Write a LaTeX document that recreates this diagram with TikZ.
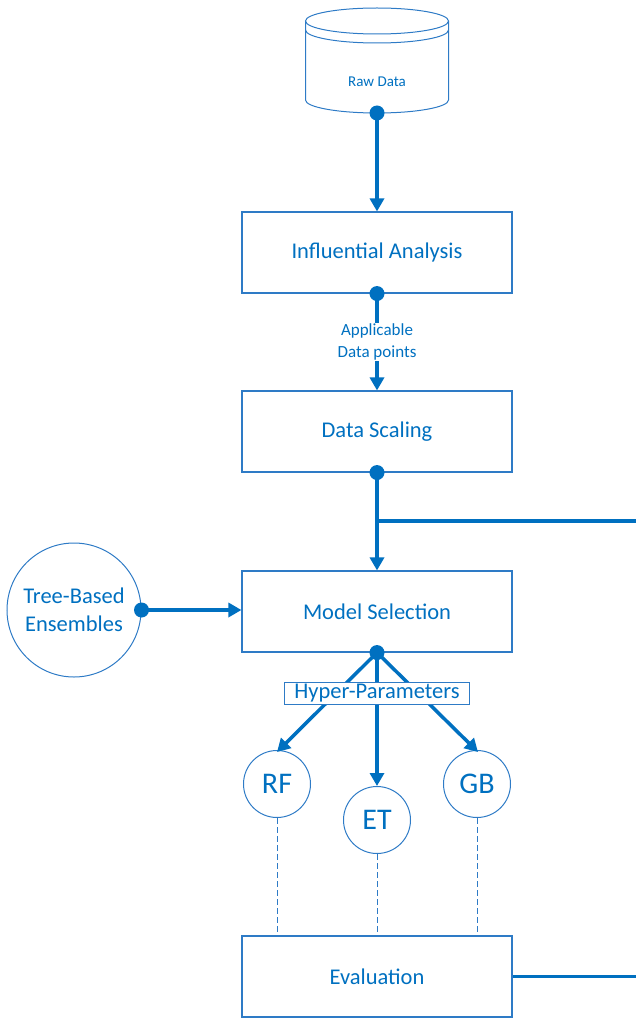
\documentclass[tikz,border=0pt]{standalone}
\usepackage{fontspec}
\setmainfont{Carlito}
\usetikzlibrary{arrows.meta}
\definecolor{mblue}{HTML}{0070C0}
\definecolor{lblue}{HTML}{2E7BC6}
\tikzset{
  box/.style={draw=lblue, line width=1.1pt, minimum width=270pt, minimum height=81pt, inner sep=0pt, text=mblue, font=\fontsize{22.5}{27}\selectfont},
  circ/.style={draw=lblue, line width=1pt, circle, inner sep=0pt, text=mblue},
  conn/.style={draw=mblue, line width=3.5pt, -{Triangle[length=13pt,width=14pt]}},
  plain/.style={draw=mblue, line width=3.5pt},
  dot/.style={fill=mblue},
  dashline/.style={draw=lblue, line width=0.9pt, dash pattern=on 6pt off 3pt},
  lbl/.style={text=mblue, align=center, inner sep=1pt}
}
\begin{document}
\begin{tikzpicture}[x=1pt,y=-1pt]
\useasboundingbox (0,0) rectangle (636,1019);
% cylinder
\draw[lblue, line width=1pt] (377,21) ellipse [x radius=71.5pt, y radius=13pt];
\draw[lblue, line width=1pt] (305.5,21) -- (305.5,100) arc[start angle=180, end angle=360, x radius=71.5pt, y radius=13pt] -- (448.5,21);
\draw[lblue, line width=1pt] (305.5,30) arc[start angle=180, end angle=360, x radius=71.5pt, y radius=13pt];
\node[lbl, font=\fontsize{15}{18}\selectfont] (raw) at (377,82) {Raw Data};
\coordinate (rawb) at (377,113);
% boxes
\node[box] (ia) at (377,252.5) {\raisebox{-2pt}{Influential Analysis}};
\node[box] (ds) at (377,431.5) {\raisebox{-2pt}{Data Scaling}};
\node[box] (ms) at (377,611.5) {\raisebox{-1pt}{Model Selection}};
\node[box] (ev) at (377,976.5) {\raisebox{-1pt}{Evaluation}};
% circles
\node[circ, minimum size=134pt, align=center, font=\fontsize{22.5}{28}\selectfont] (tb) at (74,610) {Tree-Based\\Ensembles};
\node[circ, minimum size=67pt, font=\fontsize{30}{36}\selectfont] (rf) at (277,784) {RF};
\node[circ, minimum size=67pt, font=\fontsize{30}{36}\selectfont] (et) at (377,820) {ET};
\node[circ, minimum size=67pt, font=\fontsize{30}{36}\selectfont] (gb) at (477,784) {GB};
% connectors
\draw[conn] (rawb) -- (ia.north);
\fill[dot] (rawb) circle (7.5pt);
\node[lbl, font=\fontsize{17}{22}\selectfont] (ap) at (377,342) {Applicable\\Data points};
\draw[plain] (ia.south) -- (ap.north);
\draw[conn] (ap.south) -- (ds.north);
\fill[dot] (ia.south) circle (7.5pt);
\draw[conn] (ds.south) -- (ms.north);
\fill[dot] (ds.south) circle (7.5pt);
\coordinate (br) at (377,521);
\coordinate (brEnd) at (636,521);
\draw[plain] (br) -- (brEnd);
\draw[conn] (tb.east) -- (tb.east -| ms.west);
\fill[dot] (tb.east) circle (7.5pt);
\coordinate (rftop) at (277,752);
\coordinate (gbtop) at (478,752);
\draw[conn] (ms.south) -- (rftop);
\draw[conn] (ms.south) -- (gbtop);
\draw[conn] (ms.south) -- (et.north);
\fill[dot] (ms.south) circle (7.5pt);
\node[draw=lblue, fill=white, line width=1pt, text=mblue, inner sep=1.5pt, minimum width=185pt, minimum height=22pt, font=\fontsize{22.5}{27}\selectfont] (hp) at (377,693) {Hyper-Parameters};
% dashed
\draw[dashline] (rf.south) -- (rf.south |- ev.north);
\draw[dashline] (et.south) -- (et.south |- ev.north);
\draw[dashline] (gb.south) -- (gb.south |- ev.north);
\coordinate (evEnd) at (636,976.5);
\draw[plain] (ev.east) -- (evEnd);
\end{tikzpicture}
\end{document}
